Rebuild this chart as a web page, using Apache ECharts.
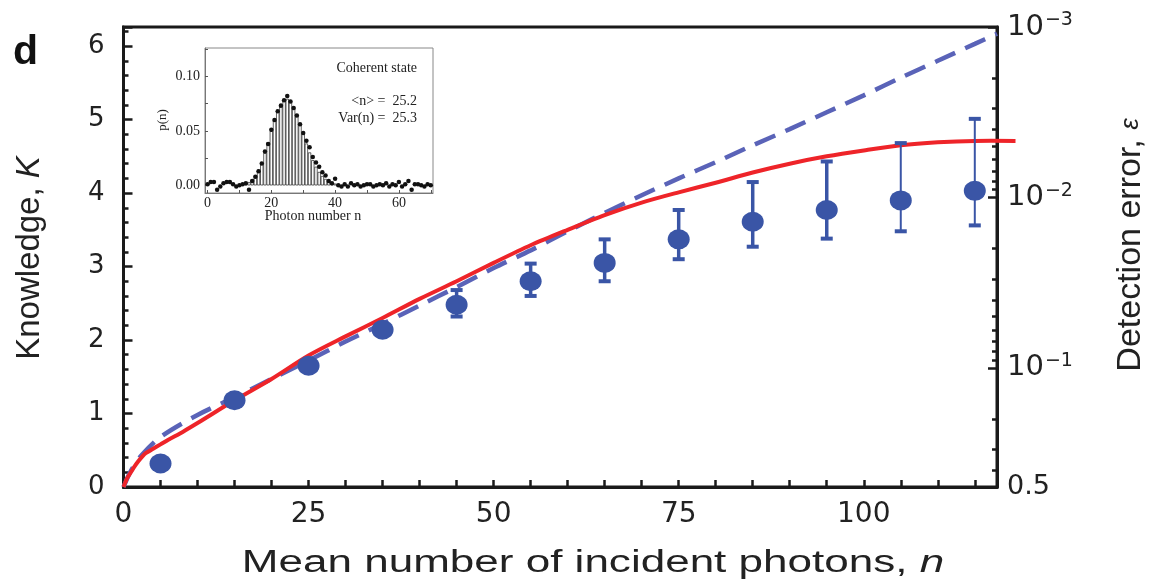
<!DOCTYPE html>
<html><head><meta charset="utf-8">
<script src="https://cdn.jsdelivr.net/npm/echarts@6/dist/echarts.min.js"></script>
<style>html,body{margin:0;padding:0;background:#fff}#c{width:1152px;height:582px}</style>
</head><body><div id="c"></div>
<script>
// ---- main panel data ----
const photonX   = [5, 15, 25, 35, 45, 55, 65, 75, 85, 95, 105, 115];
const knowledge = [0.32, 1.18, 1.65, 2.14, 2.48, 2.80, 3.05, 3.37, 3.61, 3.77, 3.90, 4.03];
const errLow    = [0.32, 1.18, 1.65, 2.14, 2.32, 2.60, 2.80, 3.10, 3.27, 3.38, 3.48, 3.56];
const errHigh   = [0.32, 1.18, 1.65, 2.14, 2.68, 3.04, 3.37, 3.77, 4.15, 4.43, 4.68, 5.01];

const redX = [0, 0.5, 1, 1.5, 2, 2.5, 3, 4, 5, 6, 8, 10, 15, 20, 25, 30, 35, 40, 45, 50, 55, 60, 65, 70, 75, 80, 85, 90, 95, 100, 105, 110, 115, 120.5];
const redK = [0, 0.12, 0.20, 0.28, 0.35, 0.41, 0.46, 0.52, 0.58, 0.64, 0.75, 0.87, 1.18, 1.47, 1.79, 2.05, 2.30, 2.56, 2.80, 3.05, 3.29, 3.50, 3.70, 3.87, 4.01, 4.14, 4.28, 4.40, 4.50, 4.58, 4.65, 4.69, 4.71, 4.71];

const dashX = [0, 1, 2.5, 5, 10, 15, 20, 25, 30, 35, 40, 45, 50, 55, 60, 65, 70, 75, 80, 85, 90, 95, 100, 105, 110, 115, 118];
const dashK = [0, 0.22, 0.44, 0.68, 0.98, 1.22, 1.47, 1.72, 1.98, 2.22, 2.47, 2.72, 2.98, 3.22, 3.48, 3.73, 3.97, 4.20, 4.42, 4.65, 4.87, 5.10, 5.33, 5.57, 5.80, 6.03, 6.17];

const xTickLabels = [0, 25, 50, 75, 100];
const yTickLabels = [0, 1, 2, 3, 4, 5, 6];
const rightLabelEps = [0.5, 0.1, 0.01, 0.001];
const rightMajorEps = [0.1, 0.01, 0.001];
const rightMinorEps = [0.4, 0.3, 0.2, 0.09, 0.08, 0.07, 0.06, 0.05, 0.04, 0.03, 0.02,
                       0.009, 0.008, 0.007, 0.006, 0.005, 0.004, 0.003, 0.002];

// ---- inset data ----
const insetMeasured = [0.001, 0.003, 0.003, -0.004, -0.001, 0.002, 0.003, 0.003, 0.001, -0.001,
  0.000, 0.001, 0.002, -0.004, 0.004, 0.008, 0.013, 0.020, 0.031, 0.038,
  0.051, 0.060, 0.068, 0.073, 0.078, 0.082, 0.077, 0.071, 0.064, 0.056,
  0.048, 0.041, 0.035, 0.026, 0.021, 0.017, 0.012, 0.009, 0.004, 0.002,
  0.006, 0.000, -0.001, 0.001, -0.001, 0.002, 0.000, 0.001, -0.001, 0.000,
  0.001, 0.001, -0.001, 0.000, 0.001, 0.000, 0.002, -0.001, 0.001, 0.000,
  0.003, -0.001, 0.001, 0.004, -0.004, 0.001, 0.001, 0.000, -0.001, 0.001, 0.000];
const insetTheoryStart = 12;
const insetTheory = [0.0015, 0.0030, 0.0054, 0.0091, 0.0144, 0.0213, 0.0298, 0.0395, 0.0498, 0.0598,
  0.0685, 0.0750, 0.0788, 0.0794, 0.0770, 0.0718, 0.0646, 0.0562, 0.0472, 0.0384,
  0.0302, 0.0231, 0.0171, 0.0123, 0.0086, 0.0059, 0.0039, 0.0025, 0.0016];
const insetXTicks = [0, 10, 20, 30, 40, 50, 60, 70];
const insetXLabels = [0, 20, 40, 60];
const insetYTicks = [0, 0.025, 0.05, 0.075, 0.1, 0.125];
const insetYLabels = [0, 0.05, 0.1];

// ---- build ----
const BLUE = '#3a55a6', DASH = '#5a63b8', RED = '#ee2429', INK = '#1a1a1a';
const SANS = "'Liberation Sans', Arial, Helvetica, sans-serif";
const WIDE = "'DejaVu Sans', 'Liberation Sans', sans-serif";
const SERIF = "'Liberation Serif', 'Times New Roman', serif";
const nl = e => -Math.log10(e);

const chart = echarts.init(document.getElementById('c'), null, {renderer: 'canvas'});
const option = {
  backgroundColor: '#fff',
  animation: false,
  grid: [
    {left: 123.5, top: 27, width: 873.5, height: 460, show: true, borderColor: INK, borderWidth: 3, outerBoundsMode: 'none', containLabel: false},
    {left: 205, top: 48, width: 228, height: 145, show: true, borderColor: '#888', borderWidth: 1, backgroundColor: '#fff', outerBoundsMode: 'none', containLabel: false}
  ],
  xAxis: [
    {type: 'value', gridIndex: 0, min: 0, max: 118, interval: 5,
     axisLine: {lineStyle: {color: INK, width: 3}},
     axisTick: {inside: true, length: 7, lineStyle: {color: INK, width: 2.5}},
     axisLabel: {customValues: xTickLabels, fontSize: 28, color: '#222', fontFamily: WIDE, margin: 14},
     splitLine: {show: false}},
    {type: 'value', gridIndex: 1, min: -0.8, max: 70.7,
     axisLine: {onZero: false, lineStyle: {color: '#777', width: 1}},
     axisTick: {inside: true, length: 3, customValues: insetXTicks, lineStyle: {color: '#555'}},
     axisLabel: {customValues: insetXLabels, fontSize: 14, color: '#222', fontFamily: SERIF, margin: 3},
     splitLine: {show: false}}
  ],
  yAxis: [
    {type: 'value', gridIndex: 0, min: 0, max: 6.26, interval: 1,
     axisLine: {lineStyle: {color: INK, width: 3}},
     axisTick: {inside: true, length: 9, lineStyle: {color: INK, width: 2.5}},
     minorTick: {show: true, splitNumber: 5, length: 5, lineStyle: {color: INK, width: 2.5}},
     axisLabel: {customValues: yTickLabels, fontSize: 26, color: '#222', fontFamily: WIDE, margin: 19},
     splitLine: {show: false}, minorSplitLine: {show: false}},
    {type: 'value', gridIndex: 0, position: 'right', min: nl(0.5), max: nl(0.001),
     axisLine: {show: true, lineStyle: {color: INK, width: 3}},
     axisTick: {inside: true, length: 9, customValues: rightMajorEps.map(nl), lineStyle: {color: INK, width: 2.5}},
     axisLabel: {customValues: rightLabelEps.map(nl), fontFamily: WIDE, color: '#222', margin: 10,
       formatter: v => { const e = Math.pow(10, -v); if (e > 0.3) return '{z|0.5}'; return '{b|10}{s|\u2212' + Math.round(v) + '}'; },
       rich: {b: {fontSize: 29, fontFamily: WIDE, color: '#222', lineHeight: 32},
              z: {fontSize: 27, fontFamily: WIDE, color: '#222', lineHeight: 32},
              s: {fontSize: 19, fontFamily: WIDE, color: '#222', verticalAlign: 'top', lineHeight: 32, padding: [0, 0, 12, 1]}}},
     splitLine: {show: false}},
    {type: 'value', gridIndex: 1, min: -0.007, max: 0.126,
     axisLine: {onZero: false, lineStyle: {color: '#777', width: 1}},
     axisTick: {inside: true, length: 3, customValues: insetYTicks, lineStyle: {color: '#555'}},
     axisLabel: {customValues: insetYLabels, fontSize: 14, color: '#222', fontFamily: SERIF, margin: 5,
       formatter: v => v.toFixed(2)},
     splitLine: {show: false}},
    {type: 'value', gridIndex: 0, position: 'right', min: nl(0.5), max: nl(0.001),
     axisLine: {show: false},
     axisTick: {inside: true, length: 5, customValues: rightMinorEps.map(nl), lineStyle: {color: INK, width: 2.5}},
     axisLabel: {show: false}, splitLine: {show: false}}
  ],
  series: [
    {type: 'line', name: 'dashed', xAxisIndex: 0, yAxisIndex: 0, smooth: 0.3, showSymbol: false, clip: false,
     data: dashX.map((x, i) => [x, dashK[i]]),
     lineStyle: {color: DASH, width: 4.5, type: [22, 11]}, z: 3},
    {type: 'custom', name: 'theory', xAxisIndex: 0, yAxisIndex: 0, z: 4, clip: false,
     data: [0],
     renderItem: (params, api) => {
       const pts = redX.map((x, i) => api.coord([x, redK[i]]));
       return {type: 'polyline', shape: {points: pts, smooth: 0.3},
               style: {stroke: RED, lineWidth: 4, fill: null}};
     }},
    {type: 'custom', name: 'err', xAxisIndex: 0, yAxisIndex: 0, z: 5,
     data: photonX.map((x, i) => [x, errLow[i], errHigh[i]]),
     renderItem: (params, api) => {
       const x = api.value(0);
       const a = api.coord([x, api.value(1)]), b = api.coord([x, api.value(2)]);
       if (Math.abs(a[1] - b[1]) < 1) return null;
       const w = params.dataIndex >= 10 ? 2 : 3.5, cw = 6;
       const st = {stroke: BLUE, lineWidth: w};
       return {type: 'group', children: [
         {type: 'line', shape: {x1: a[0], y1: a[1], x2: b[0], y2: b[1]}, style: st},
         {type: 'line', shape: {x1: a[0] - cw, y1: a[1], x2: a[0] + cw, y2: a[1]}, style: {stroke: BLUE, lineWidth: 4}},
         {type: 'line', shape: {x1: b[0] - cw, y1: b[1], x2: b[0] + cw, y2: b[1]}, style: {stroke: BLUE, lineWidth: 4}}
       ]};
     }},
    {type: 'scatter', name: 'measured', xAxisIndex: 0, yAxisIndex: 0, z: 6,
     data: photonX.map((x, i) => [x, knowledge[i]]),
     symbol: 'circle', symbolSize: [22, 20], itemStyle: {color: BLUE, opacity: 1}},
    {type: 'bar', name: 'poisson', xAxisIndex: 1, yAxisIndex: 2, barWidth: 3.2, z: 10,
     data: insetTheory.map((p, i) => [insetTheoryStart + i, p]),
     itemStyle: {color: '#fff', borderColor: '#222', borderWidth: 0.7}},
    {type: 'scatter', name: 'pn', xAxisIndex: 1, yAxisIndex: 2, z: 11,
     data: insetMeasured.map((p, i) => [i, p]),
     symbol: 'circle', symbolSize: 4.5, itemStyle: {color: '#111', opacity: 1}}
  ],
  graphic: [
    {type: 'text', x: 13, y: 32, z: 20, style: {text: 'd', font: 'bold 41px ' + SANS, fill: '#111'}},
    {type: 'text', x: 30, y: 258, rotation: Math.PI / 2, z: 20,
     style: {text: 'Knowledge, {i|K}', font: '33px ' + SANS, fill: '#222', align: 'center', verticalAlign: 'middle',
       rich: {i: {font: 'italic 33px ' + SANS, fill: '#222'}}}},
    {type: 'text', x: 593, y: 563, scaleX: 1.42, z: 20,
     style: {text: 'Mean number of incident photons, {i|n}', font: '31px ' + SANS, fill: '#222', align: 'center', verticalAlign: 'middle',
       rich: {i: {font: 'italic 31px ' + SANS, fill: '#222'}}}},
    {type: 'text', x: 1131, y: 245, rotation: Math.PI / 2, z: 20,
     style: {text: 'Detection error, {i|\u03b5}', font: '34px ' + SANS, fill: '#222', align: 'center', verticalAlign: 'middle',
       rich: {i: {font: 'italic 26px ' + SANS, fill: '#222'}}}},
    {type: 'text', x: 417, y: 68, z: 20, style: {text: 'Coherent state', font: '14px ' + SERIF, fill: '#222', align: 'right', verticalAlign: 'middle'}},
    {type: 'text', x: 417, y: 101, z: 20, style: {text: '<n> =  25.2', font: '14px ' + SERIF, fill: '#222', align: 'right', verticalAlign: 'middle'}},
    {type: 'text', x: 417, y: 118, z: 20, style: {text: 'Var(n) =  25.3', font: '14px ' + SERIF, fill: '#222', align: 'right', verticalAlign: 'middle'}},
    {type: 'text', x: 163, y: 120, rotation: Math.PI / 2, z: 20, style: {text: 'p(n)', font: '13px ' + SERIF, fill: '#222', align: 'center', verticalAlign: 'middle'}},
    {type: 'text', x: 313, y: 216, z: 20, style: {text: 'Photon number n', font: '14px ' + SERIF, fill: '#222', align: 'center', verticalAlign: 'middle'}}
  ]
};
chart.setOption(option);
</script></body></html>
